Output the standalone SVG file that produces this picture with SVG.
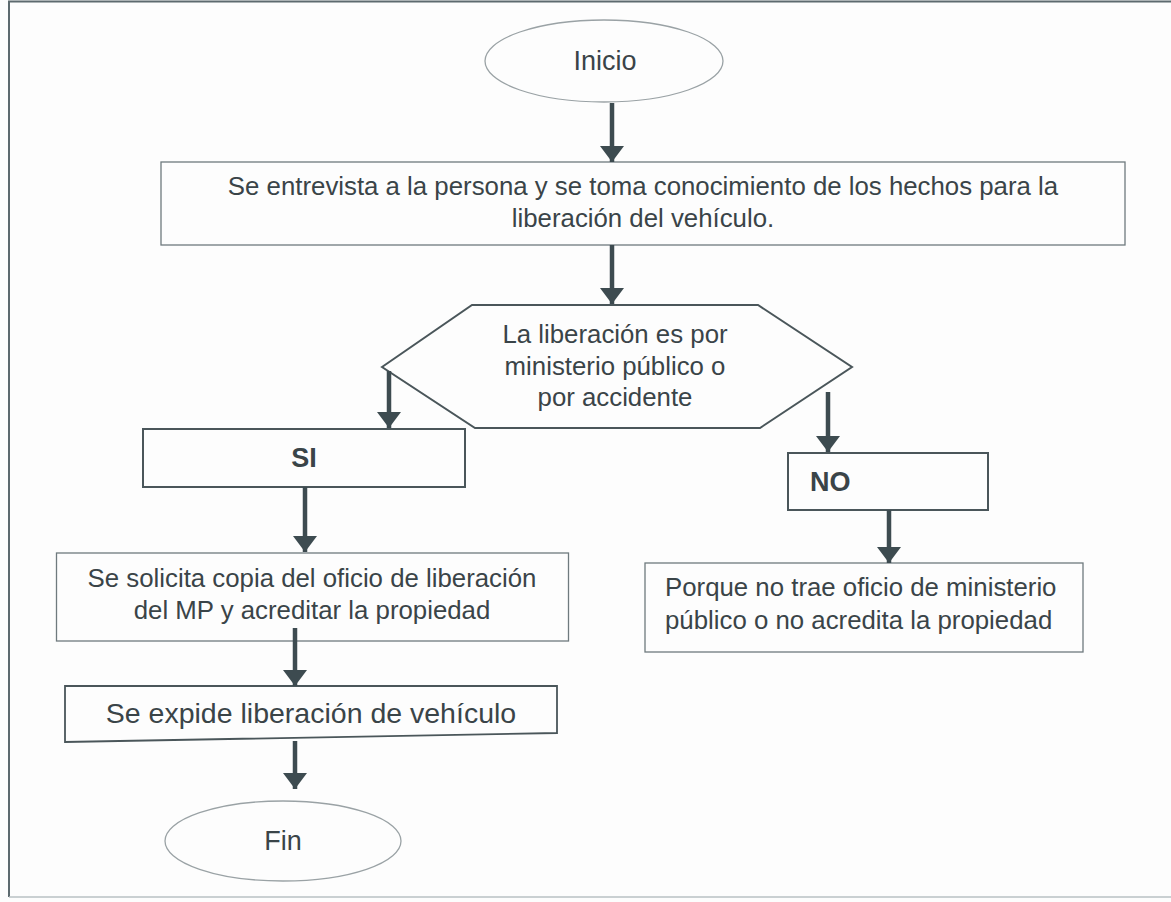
<svg xmlns="http://www.w3.org/2000/svg" width="1171" height="902" viewBox="0 0 1171 902">
<style>
text{font-family:"Liberation Sans",Arial,sans-serif;fill:#3a4448}
.t{font-size:25.8px}
.c{text-anchor:middle}
.b{font-weight:bold;font-size:27px}
.box{fill:none;stroke:#6f7a7e;stroke-width:1.3}
.dbox{fill:none;stroke:#4a565a;stroke-width:2}
.ell{fill:none;stroke:#9aa2a5;stroke-width:1.3}
.conn line{stroke:#3d4b50;stroke-width:4.5;marker-end:url(#ah)}
.frame{stroke:#5d6a6f;stroke-width:2;fill:none}
</style>
<defs>
<marker id="ah" markerUnits="userSpaceOnUse" viewBox="0 -12 16 24" refX="16" refY="0" markerWidth="16" markerHeight="24" orient="auto">
<path d="M0,-12 L16,0 L0,12 Z" fill="#3d4b50"/>
</marker>
</defs>
<rect width="1171" height="902" fill="#fdfdfd"/>
<g id="frame">
<path class="frame" d="M9,897 V1.5 H1171"/>
<path d="M9,897 H1171" stroke="#b9c0c3" stroke-width="1.5" fill="none"/>
</g>
<g id="inicio">
<ellipse class="ell" cx="604" cy="61" rx="119" ry="41"/>
<text class="c" x="605" y="70" style="font-size:27px">Inicio</text>
</g>
<g id="entrevista">
<rect class="box" x="161" y="162" width="964" height="83"/>
<text class="t c" x="643" y="195">Se entrevista a la persona y se toma conocimiento de los hechos para la</text>
<text class="t c" x="643" y="227">liberación del vehículo.</text>
</g>
<g id="decision">
<polygon class="dbox" points="382,367 472,305 758,305 852,367 760,428 475,428"/>
<text class="t c" x="615" y="343">La liberación es por</text>
<text class="t c" x="615" y="375">ministerio público o</text>
<text class="t c" x="615" y="406">por accidente</text>
</g>
<g id="si">
<rect class="dbox" x="143" y="429" width="322" height="58"/>
<text class="b c" x="304" y="467">SI</text>
</g>
<g id="no">
<rect class="dbox" x="788" y="453" width="200" height="57"/>
<text class="b" x="810" y="491">NO</text>
</g>
<g id="solicita">
<rect class="box" x="56.5" y="553" width="512" height="88"/>
<text class="t c" x="312" y="587">Se solicita copia del oficio de liberación</text>
<text class="t c" x="312" y="619">del MP y acreditar la propiedad</text>
</g>
<g id="porque">
<rect class="box" x="645" y="563" width="438" height="89"/>
<text class="t" x="665" y="596">Porque no trae oficio de ministerio</text>
<text class="t" x="665" y="629">público o no acredita la propiedad</text>
</g>
<g id="expide">
<path class="dbox" style="stroke-width:1.8" d="M65,686 H557 V733 Q300,737 65,742 Z"/>
<text class="c" x="311" y="723" style="font-size:28.5px">Se expide liberación de vehículo</text>
</g>
<g id="fin">
<ellipse class="ell" cx="283" cy="841" rx="118" ry="40"/>
<text class="c" x="283" y="850" style="font-size:27px">Fin</text>
</g>
<g id="connectors" class="conn">
<line x1="612" y1="103" x2="612" y2="162"/>
<line x1="612" y1="245" x2="612" y2="304"/>
<line x1="389" y1="371" x2="389" y2="428"/>
<line x1="828" y1="392" x2="828" y2="452"/>
<line x1="305" y1="487" x2="305" y2="552"/>
<line x1="295" y1="628" x2="295" y2="686"/>
<line x1="295" y1="741" x2="295" y2="789"/>
<line x1="889" y1="510" x2="889" y2="563"/>
</g>
</svg>
